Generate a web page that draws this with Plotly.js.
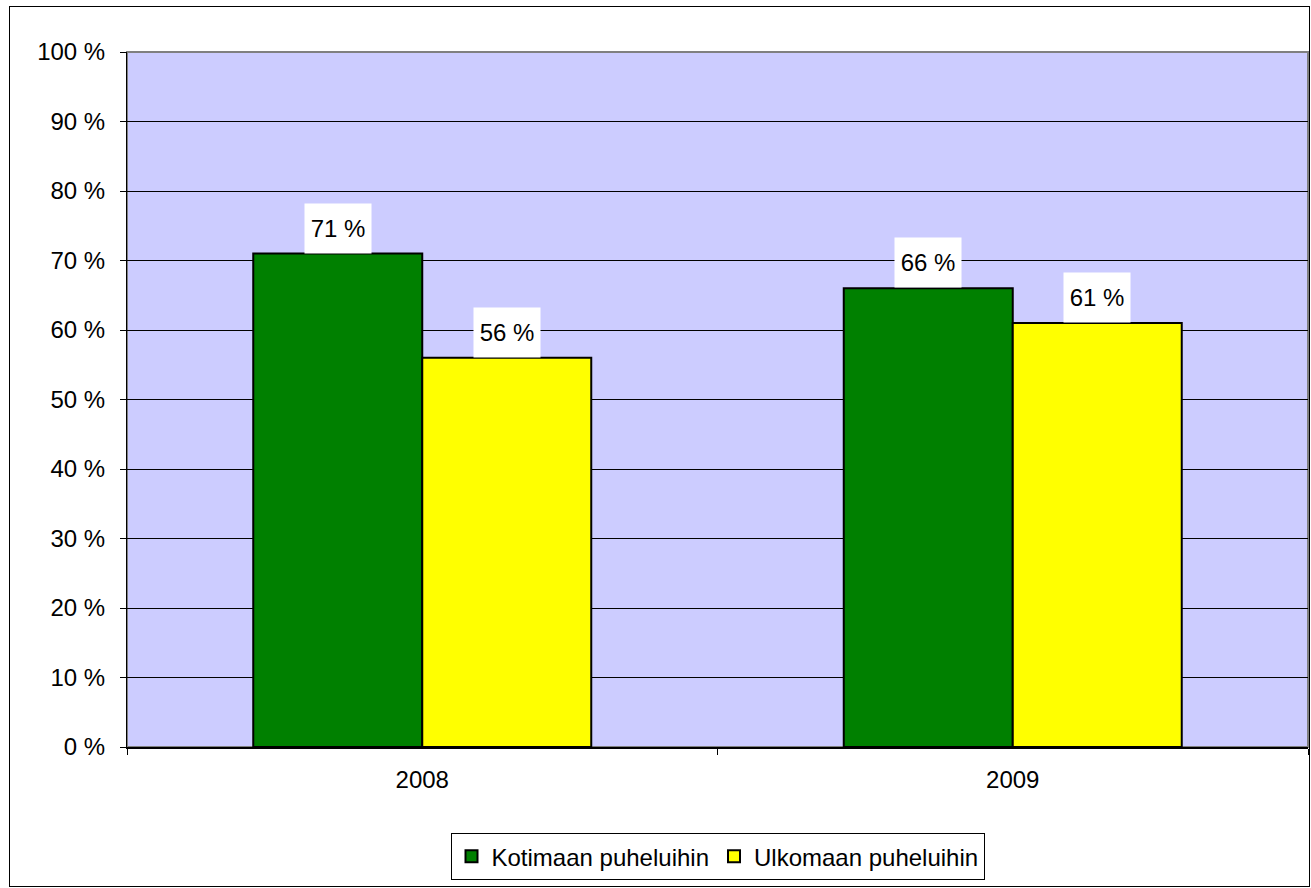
<!DOCTYPE html>
<html>
<head>
<meta charset="utf-8">
<script src="https://cdn.plot.ly/plotly-3.0.1.min.js"></script>
<style>
  html, body { margin: 0; padding: 0; background: #fff; }
  #frame { position: absolute; left: 9px; top: 6px; width: 1299px; height: 879px; border: 1px solid #000; }
  #chart { width: 1299px; height: 879px; }
</style>
</head>
<body>
<div id="frame"><div id="chart"></div></div>
<script>
const categories = ["2008", "2009"];
const seriesNames = ["Kotimaan puheluihin", "Ulkomaan puheluihin"];
const kotimaan = [71, 66];
const ulkomaan = [56, 61];
const seriesValues = [kotimaan, ulkomaan];
const seriesColors = ["#008000", "#FFFF00"];
const yTickVals = [0, 10, 20, 30, 40, 50, 60, 70, 80, 90, 100];
const yTickText = yTickVals.map(v => v + " %");

const FONT = "Liberation Sans, Arial, sans-serif";
const FS = 24;
const bargap = 0.4276;
const barW = (1 - bargap) / seriesValues.length;

const traces = seriesValues.map((vals, s) => ({
  type: "bar",
  name: seriesNames[s],
  x: categories,
  y: vals,
  marker: { color: seriesColors[s], line: { color: "#000", width: 2 } },
  hoverinfo: "skip"
}));

const annotations = [];
seriesValues.forEach((vals, s) => {
  vals.forEach((v, i) => {
    const xc = i - (1 - bargap) / 2 + barW * (s + 0.5);
    annotations.push({
      x: xc, y: v, xref: "x", yref: "y",
      text: v + " %", showarrow: false,
      yanchor: "bottom", xanchor: "center",
      bgcolor: "#fff", width: 66, height: 49, borderpad: 0,
      font: { family: FONT, size: FS, color: "#000" }
    });
  });
});

const layout = {
  width: 1299, height: 879,
  margin: { l: 117, r: 1, t: 45, b: 139 },
  paper_bgcolor: "#fff",
  plot_bgcolor: "#CCCCFF",
  barmode: "group",
  bargap: bargap,
  bargroupgap: 0,
  showlegend: true,
  legend: {
    orientation: "h", x: 0.5, xanchor: "center", y: -0.124, yanchor: "top",
    bordercolor: "#000", borderwidth: 1, bgcolor: "#fff",
    font: { family: FONT, size: FS, color: "#000" },
    itemwidth: 30, traceorder: "normal", tracegroupgap: 0
  },
  xaxis: {
    type: "category",
    range: [-0.5, categories.length - 0.5],
    tickson: "boundaries", ticks: "outside", ticklen: 6, tickcolor: "#000",
    ticklabelstandoff: 10,
    showgrid: false, zeroline: false,
    showline: true, linecolor: "#000", linewidth: 2,
    tickfont: { family: FONT, size: FS, color: "#000" },
    fixedrange: true
  },
  yaxis: {
    range: [0, 100],
    tickmode: "array", tickvals: yTickVals, ticktext: yTickText,
    ticks: "outside", ticklen: 6, tickcolor: "#000",
    ticklabelstandoff: 10,
    showgrid: true, gridcolor: "#000", gridwidth: 1,
    zeroline: false,
    showline: true, linecolor: "#000", linewidth: 1,
    tickfont: { family: FONT, size: FS, color: "#000" },
    fixedrange: true
  },
  shapes: [{
    type: "rect", xref: "paper", yref: "paper", x0: 0, x1: 1, y0: 0, y1: 1,
    line: { color: "#808080", width: 2 }, layer: "below"
  }],
  annotations: annotations
};

Plotly.newPlot("chart", traces, layout, { displayModeBar: false, staticPlot: true });
</script>
</body>
</html>
